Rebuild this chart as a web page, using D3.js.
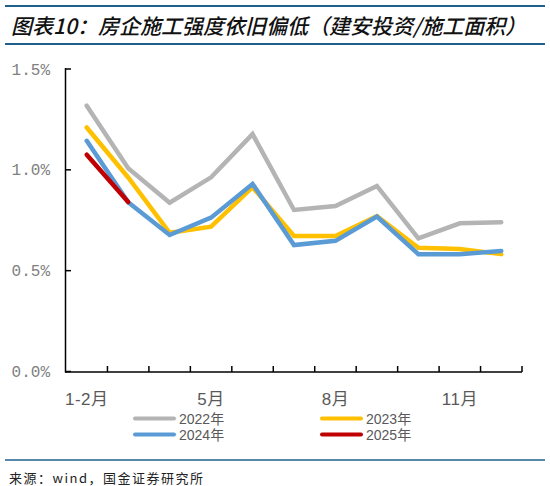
<!DOCTYPE html>
<html><head><meta charset="utf-8">
<script src="https://cdn.jsdelivr.net/npm/d3@7/dist/d3.min.js"></script>
<style>body{margin:0;background:#fff}svg{display:block}</style>
</head><body><div id="chart"></div>
<script>
const months = ["1-2月","3月","4月","5月","6月","7月","8月","9月","10月","11月","12月"];
const shownLabels = ["1-2月","5月","8月","11月"];
const yTicks = [0, 0.5, 1.0, 1.5];
const s2022 = [1.318,1.008,0.837,0.963,1.177,0.801,0.821,0.920,0.660,0.735,0.740];
const s2023 = [1.210,0.962,0.688,0.718,0.914,0.672,0.672,0.771,0.614,0.607,0.582];
const s2024 = [1.144,0.839,0.677,0.763,0.930,0.627,0.648,0.768,0.582,0.582,0.598];
const s2025 = [1.075,0.840];
const seriesNames = ["2022年","2023年","2024年","2025年"];
const seriesColors = ["#B4B4B4","#FFC000","#5B9BD5","#C00000"];
const seriesData = [s2022,s2023,s2024,s2025];

const W=550,H=486;
const svg=d3.select("#chart").append("svg").attr("width",W).attr("height",H);

// header rules and title
svg.append("line").attr("x1",5).attr("x2",545).attr("y1",6).attr("y2",6).attr("stroke","#1F5F8B").attr("stroke-width",2);
svg.append("line").attr("x1",5).attr("x2",545).attr("y1",44).attr("y2",44).attr("stroke","#1F5F8B").attr("stroke-width",2);
svg.append("text").attr("x",11).attr("y",34)
  .attr("font-family","'Noto Sans CJK SC'").attr("font-size",21).attr("font-style","italic").attr("font-weight",500)
  .attr("fill","#111").text("图表10：房企施工强度依旧偏低（建安投资/施工面积）");

// scales
const x=d3.scaleBand().domain(months).range([66,522]).paddingInner(0).paddingOuter(0);
const y=d3.scaleLinear().domain([0,1.5]).range([371.5,69]);

// axes
const g=svg.append("g");
g.append("line").attr("x1",65.5).attr("x2",65.5).attr("y1",68).attr("y2",372.5).attr("stroke","#000").attr("stroke-width",1.5);
g.append("line").attr("x1",65).attr("x2",522).attr("y1",372).attr("y2",372).attr("stroke","#000").attr("stroke-width",1.5);
// y ticks (inward)
g.selectAll(".yt").data(yTicks).enter().append("line")
  .attr("x1",65.5).attr("x2",71).attr("y1",d=>y(d)).attr("y2",d=>y(d)).attr("stroke","#000").attr("stroke-width",1.5);
g.selectAll(".yl").data(yTicks).enter().append("text")
  .attr("x",50).attr("y",d=>y(d)+5.5).attr("text-anchor","end")
  .attr("font-family","'Liberation Mono'").attr("font-size",16).attr("fill","#808080")
  .text(d=>d3.format(".1f")(d)+"%");
// x ticks at band boundaries (inward)
const bounds=months.map(m=>x(m)).concat([x.range()[1]]);
g.selectAll(".xt").data(bounds.slice(1)).enter().append("line")
  .attr("x1",d=>d).attr("x2",d=>d).attr("y1",372).attr("y2",366).attr("stroke","#000").attr("stroke-width",1.5);
g.selectAll(".xl").data(shownLabels).enter().append("text")
  .attr("x",d=>x(d)+x.bandwidth()/2).attr("y",405).attr("text-anchor","middle")
  .attr("font-family","'Liberation Sans','Noto Sans CJK SC'").attr("font-size",17).attr("letter-spacing",0.5).attr("fill","#595959")
  .text(d=>d);

// lines
const line=d3.line().x((d,i)=>x(months[i])+x.bandwidth()/2).y(d=>y(d));
seriesData.forEach((s,k)=>{
  svg.append("path").datum(s).attr("d",line).attr("fill","none")
    .attr("stroke",seriesColors[k]).attr("stroke-width",4.5)
    .attr("stroke-linejoin","miter").attr("stroke-linecap","round");
});

// legend
const legPos=[[135,418.5],[322,418.5],[135,434.5],[322,434.5]];
seriesNames.forEach((n,k)=>{
  const [lx,ly]=legPos[k];
  svg.append("line").attr("x1",lx).attr("x2",lx+39).attr("y1",ly).attr("y2",ly)
    .attr("stroke",seriesColors[k]).attr("stroke-width",4).attr("stroke-linecap","round");
  svg.append("text").attr("x",lx+44).attr("y",ly+5)
    .attr("font-family","'Liberation Sans','Noto Sans CJK SC'").attr("font-size",14).attr("fill","#595959").text(n);
});

// footer
svg.append("line").attr("x1",5).attr("x2",545).attr("y1",460).attr("y2",460).attr("stroke","#1F5F8B").attr("stroke-width",1.5);
svg.append("text").attr("x",9).attr("y",483)
  .attr("font-family","'Noto Sans CJK SC'").attr("font-size",13).attr("letter-spacing",1.5).attr("fill","#222")
  .text("来源：wind，国金证券研究所");
</script></body></html>
